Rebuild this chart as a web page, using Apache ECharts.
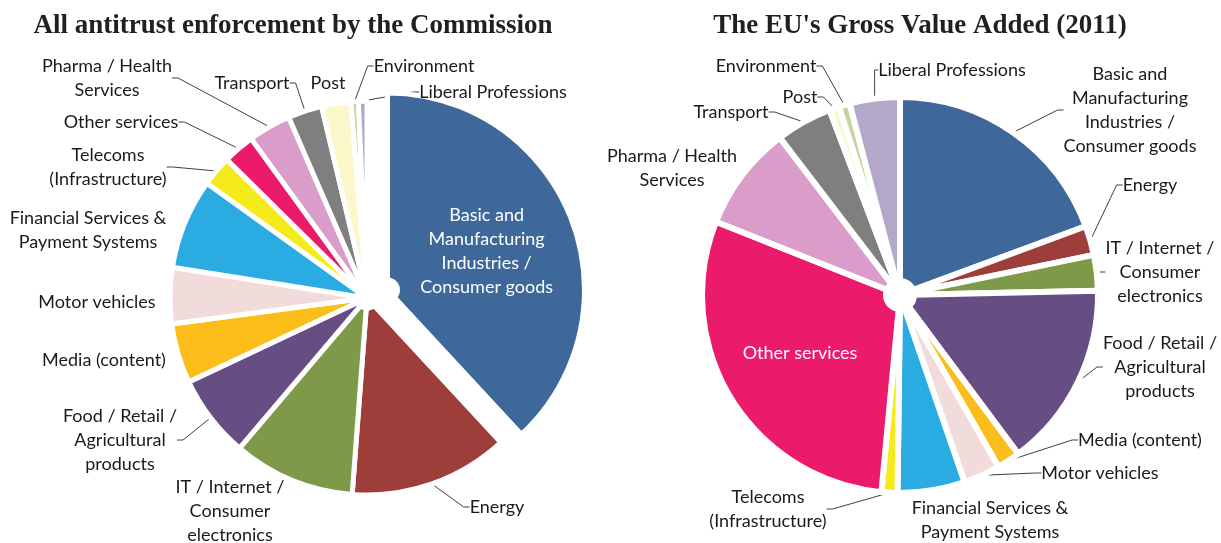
<!DOCTYPE html>
<html><head><meta charset="utf-8">
<script src="https://cdn.jsdelivr.net/npm/echarts@6/dist/echarts.min.js"></script>
<style>html,body{margin:0;padding:0;background:#fff}#c{width:1221px;height:543px}</style>
</head><body><div id="c"></div>
<script>
// Sectors, clockwise from 12 o'clock
const categories = [
  'Basic and\nManufacturing\nIndustries /\nConsumer goods',
  'Energy',
  'IT / Internet /\nConsumer\nelectronics',
  'Food / Retail /\nAgricultural\nproducts',
  'Media (content)',
  'Motor vehicles',
  'Financial Services &\nPayment Systems',
  'Telecoms\n(Infrastructure)',
  'Other services',
  'Pharma / Health\nServices',
  'Transport',
  'Post',
  'Environment',
  'Liberal Professions'
];
// Share of all antitrust enforcement by the Commission (%)
const enforcementShare = [38.1, 13.1, 10.0, 6.8, 4.9, 4.6, 7.4, 2.5, 2.6, 3.5, 2.8, 2.4, 0.6, 0.7];
// Share of the EU's Gross Value Added 2011 (%)
const gvaShare = [19.4, 2.4, 2.9, 15.2, 1.9, 3.0, 5.5, 1.3, 29.6, 8.6, 4.6, 0.8, 0.9, 4.1];
const sliceColors = ['#3E6899', '#9E3E3B', '#7E9A48', '#664D84', '#FBBD1A', '#F2DCDB', '#2AACE2',
                     '#F5EB1B', '#EC1A6A', '#DA9CC8', '#7F7F7F', '#FBF7C8', '#C3D69B', '#B3A8C9'];
const chartTitles = ['All antitrust enforcement by the Commission', "The EU's Gross Value Added (2011)"];

// label placement (text centres), layout only; null = library default
const leftLabelPos = [null,[497,507],[230,511],[120,440],[104,360],[97,302],[88,230],
                      [108,167],[121,122],[107,78],[252,83],[328,83],[424,66],[493,92]];
const rightLabelPos = [[1130,110],[1150,185],[1160,272],[1160,367],[1140,440],[1100,473],[990,520],
                       [768,509],[800,353],[672,168],[731,112],[800,97],[766,66],[952,70]];

function buildSeries(values, center, radius, opts) {
  return {
    type: 'pie', center: center, radius: radius, startAngle: 90, clockwise: true,
    selectedMode: 'single', selectedOffset: opts.offset,
    avoidLabelOverlap: false, animation: false, silent: true,
    itemStyle: { borderColor: '#fff', borderWidth: opts.border },
    label: { show: true, position: 'outside', fontFamily: 'Lato', fontSize: 18, lineHeight: 24,
             color: '#1a1a1a', align: 'center' },
    labelLine: { show: true, length: 8, length2: 6, smooth: false,
                 lineStyle: { color: '#404040', width: 1 } },
    emphasis: { disabled: true },
    labelLayout: function (p) {
      const pos = opts.labelPos[p.dataIndex];
      if (!pos) return {};
      return { x: pos[0], y: pos[1], align: 'center', verticalAlign: 'middle' };
    },
    data: categories.map(function (name, i) {
      const isInside = opts.inside.indexOf(i) >= 0;
      return {
        name: name, value: values[i], selected: opts.selected.indexOf(i) >= 0,
        itemStyle: { color: sliceColors[i] },
        label: isInside ? { color: '#fff', position: 'inside' } : {},
        labelLine: { show: !isInside && opts.noLine.indexOf(i) < 0 }
      };
    })
  };
}

const titleStyle = { fontFamily: 'Liberation Serif', fontWeight: 'bold', fontSize: 27, color: '#231F20' };
const chart = echarts.init(document.getElementById('c'), null, { renderer: 'canvas' });
chart.setOption({
  animation: false,
  backgroundColor: '#fff',
  title: [
    { text: chartTitles[0], left: 293, top: 13, textAlign: 'center', padding: 0, textStyle: titleStyle },
    { text: chartTitles[1], left: 920, top: 13, textAlign: 'center', padding: 0, textStyle: titleStyle }
  ],
  series: [
    buildSeries(enforcementShare, [367, 298], [10, 197],
      { offset: 22, border: 5, labelPos: leftLabelPos, selected: [0], inside: [0], noLine: [2, 4, 5, 6, 11] }),
    buildSeries(gvaShare, [900, 295], [14, 198],
      { offset: 0, border: 6, labelPos: rightLabelPos, selected: [], inside: [8], noLine: [6, 9] })
  ]
});
</script></body></html>
